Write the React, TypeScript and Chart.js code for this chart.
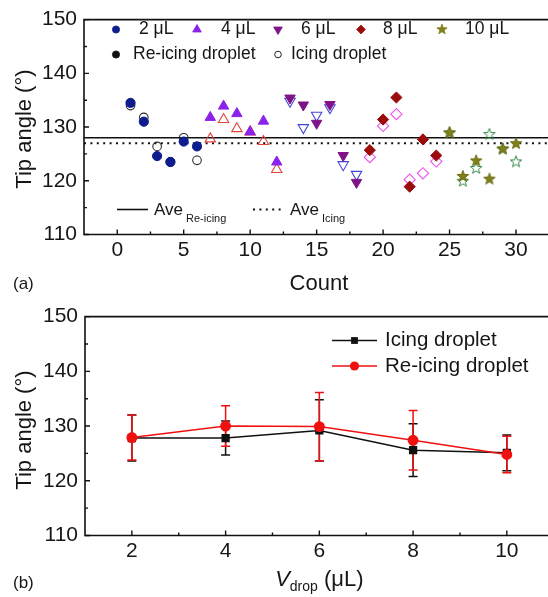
import React, { useEffect, useRef } from 'react';
import { Chart, registerables } from 'chart.js';

Chart.register(...registerables);

const FONT = '"Liberation Sans", Arimo, Arial, sans-serif';
const TEXT = '#161616';

// ---------------- Panel (a): tip angle per count ----------------
const countsV2 = [1, 2, 3, 4, 5, 6];
const countsV4 = [7, 8, 9, 10, 11, 12];
const countsV6 = [13, 14, 15, 16, 17, 18];
const countsV8 = [19, 20, 21, 22, 23, 24];
const countsV10 = [25, 26, 27, 28, 29, 30];

const reIcingV2 = [134.5, 131.0, 124.6, 123.5, 127.3, 126.4];
const reIcingV4 = [131.8, 133.9, 132.5, 129.1, 131.1, 123.5];
const reIcingV6 = [135.4, 134.1, 130.7, 134.2, 124.7, 119.7];
const reIcingV8 = [125.7, 131.4, 135.5, 118.9, 127.7, 124.7];
const reIcingV10 = [129.0, 120.9, 123.8, 120.4, 126.0, 127.0];

const icingV2 = [134.0, 131.8, 126.4, 123.5, 128.0, 123.8];
const icingV4 = [127.8, 131.4, 129.7, 129.1, 127.3, 122.1];
const icingV6 = [134.8, 129.9, 132.2, 133.6, 123.0, 121.2];
const icingV8 = [124.4, 130.2, 132.4, 120.2, 121.4, 123.6];
const icingV10 = [129.0, 120.0, 122.4, 128.7, 126.0, 123.6];

const aveReIcing = 128.0;
const aveIcing = 127.0;

const countMin = -2.5;
const countMax = 33;
const countTicks = [0, 5, 10, 15, 20, 25, 30];
const countMinorTicks = [2.5, 7.5, 12.5, 17.5, 22.5, 27.5, 32.5];
const angleMin = 110;
const angleMax = 150;
const angleTicks = [110, 120, 130, 140, 150];
const angleMinorTicks = [115, 125, 135, 145];

const volumeLabels = ['2 μL', '4 μL', '6 μL', '8 μL', '10 μL'];

// ---------------- Panel (b): mean tip angle per volume ----------------
const volumes = [2, 4, 6, 8, 10];
const icingMean = [127.8, 127.8, 129.2, 125.6, 125.1];
const icingErr = [4.2, 3.1, 5.6, 4.8, 3.25];
const reIcingMean = [127.9, 130.0, 129.9, 127.4, 124.8];
const reIcingErr = [4.1, 3.7, 6.25, 5.45, 3.35];
const volumeMin = 1;
const volumeMax = 11;
const volumeTicks = [2, 4, 6, 8, 10];
const volumeMinorTicks = [3, 5, 7, 9];

// ---------------- styles ----------------
const C_NAVY = '#0e1c8e';
const C_VIOLET = '#8a22ea';
const C_PURPLE = '#7e1488';
const C_WINE = '#9a0c0c';
const C_OLIVE = '#80801a';
const O_BLACK = '#2a2a2a';
const O_RED = '#e2453c';
const O_BLUE = '#4545da';
const O_MAGENTA = '#ee55ee';
const O_GREEN = '#2f8a45';

function starPath(ctx: CanvasRenderingContext2D, cx: number, cy: number, r: number) {
  const inner = r * 0.42;
  ctx.beginPath();
  for (let i = 0; i < 10; i++) {
    const rr = i % 2 === 0 ? r : inner;
    const a = -Math.PI / 2 + (i * Math.PI) / 5;
    const px = cx + rr * Math.cos(a);
    const py = cy + rr * Math.sin(a);
    if (i === 0) ctx.moveTo(px, py);
    else ctx.lineTo(px, py);
  }
  ctx.closePath();
}

function makeStar(r: number, fill: string | null, stroke: string, lw: number) {
  const size = Math.ceil(2 * r + 4);
  const c = document.createElement('canvas');
  c.width = size;
  c.height = size;
  const ctx = c.getContext('2d')!;
  starPath(ctx, size / 2, size / 2 + r * 0.08, r);
  if (fill) {
    ctx.fillStyle = fill;
    ctx.fill();
  }
  ctx.strokeStyle = stroke;
  ctx.lineWidth = lw;
  ctx.stroke();
  return c;
}

function drawMarker(
  ctx: CanvasRenderingContext2D,
  style: string,
  x: number,
  y: number,
  r: number,
  fill: string | null,
  stroke: string | null,
  lw = 1
) {
  ctx.beginPath();
  if (style === 'circle') {
    ctx.arc(x, y, r, 0, Math.PI * 2);
  } else if (style === 'triangle') {
    ctx.moveTo(x, y - r);
    ctx.lineTo(x + r * 0.866, y + r * 0.5);
    ctx.lineTo(x - r * 0.866, y + r * 0.5);
    ctx.closePath();
  } else if (style === 'down') {
    ctx.moveTo(x, y + r);
    ctx.lineTo(x + r * 0.866, y - r * 0.5);
    ctx.lineTo(x - r * 0.866, y - r * 0.5);
    ctx.closePath();
  } else if (style === 'diamond') {
    ctx.moveTo(x, y - r);
    ctx.lineTo(x + r, y);
    ctx.lineTo(x, y + r);
    ctx.lineTo(x - r, y);
    ctx.closePath();
  } else if (style === 'star') {
    starPath(ctx, x, y, r);
  } else if (style === 'square') {
    ctx.rect(x - r, y - r, 2 * r, 2 * r);
  }
  if (fill) {
    ctx.fillStyle = fill;
    ctx.fill();
  }
  if (stroke) {
    ctx.strokeStyle = stroke;
    ctx.lineWidth = lw;
    ctx.stroke();
  }
}

function pts(xs: number[], ys: number[]) {
  return xs.map((x, i) => ({ x, y: ys[i] }));
}

function drawFrameAndTicks(
  chart: any,
  xMajor: number[],
  xMinor: number[],
  yMajor: number[],
  yMinor: number[]
) {
  const ctx: CanvasRenderingContext2D = chart.ctx;
  const { left, right, top, bottom } = chart.chartArea;
  const xs = chart.scales.x;
  const ys = chart.scales.y;
  ctx.save();
  ctx.strokeStyle = '#111';
  ctx.lineWidth = 1.6;
  ctx.beginPath();
  ctx.rect(left, top, right - left, bottom - top);
  ctx.stroke();
  ctx.lineWidth = 1.4;
  ctx.beginPath();
  xMajor.forEach((v) => {
    const p = xs.getPixelForValue(v);
    ctx.moveTo(p, bottom);
    ctx.lineTo(p, bottom - 5);
  });
  xMinor.forEach((v) => {
    const p = xs.getPixelForValue(v);
    ctx.moveTo(p, bottom);
    ctx.lineTo(p, bottom - 3);
  });
  yMajor.forEach((v) => {
    const p = ys.getPixelForValue(v);
    ctx.moveTo(left, p);
    ctx.lineTo(left + 5, p);
  });
  yMinor.forEach((v) => {
    const p = ys.getPixelForValue(v);
    ctx.moveTo(left, p);
    ctx.lineTo(left + 3, p);
  });
  ctx.stroke();
  ctx.restore();
}

function drawYTitle(ctx: CanvasRenderingContext2D, x: number, y: number) {
  ctx.save();
  ctx.translate(x, y);
  ctx.rotate(-Math.PI / 2);
  ctx.font = `22px ${FONT}`;
  ctx.fillStyle = TEXT;
  ctx.textAlign = 'center';
  ctx.textBaseline = 'middle';
  ctx.fillText('Tip angle (°)', 0, 0);
  ctx.restore();
}

function makeConfigA(): any {
  const starFill = makeStar(6, C_OLIVE, '#6a6a10', 1);
  const starOpen = makeStar(6, null, O_GREEN, 1);
  const groups = [
    { xs: countsV2, re: reIcingV2, ic: icingV2, style: 'circle', rot: 0, r: 4.6, fill: C_NAVY, open: O_BLACK, legend: 'circle' },
    { xs: countsV4, re: reIcingV4, ic: icingV4, style: 'triangle', rot: 0, r: 6, fill: C_VIOLET, open: O_RED, legend: 'triangle' },
    { xs: countsV6, re: reIcingV6, ic: icingV6, style: 'triangle', rot: 180, r: 6, fill: C_PURPLE, open: O_BLUE, legend: 'down' },
    { xs: countsV8, re: reIcingV8, ic: icingV8, style: 'rectRot', rot: 0, r: 5.6, fill: C_WINE, open: O_MAGENTA, legend: 'diamond' },
    { xs: countsV10, re: reIcingV10, ic: icingV10, style: 'star', rot: 0, r: 6, fill: C_OLIVE, open: O_GREEN, legend: 'star' },
  ];

  const filled = groups.map((g) => ({
    data: pts(g.xs, g.re),
    pointStyle: g.style === 'star' ? starFill : g.style,
    pointRotation: g.rot,
    pointRadius: g.r,
    pointBackgroundColor: g.fill,
    pointBorderColor: g.fill,
    pointBorderWidth: 1,
    showLine: false,
  }));
  const open = groups.map((g) => ({
    data: pts(g.xs, g.ic),
    pointStyle: g.style === 'star' ? starOpen : g.style,
    pointRotation: g.rot,
    pointRadius: g.style === 'circle' ? 4.3 : g.r,
    pointBackgroundColor: 'rgba(255,255,255,0)',
    pointBorderColor: g.open,
    pointBorderWidth: 1.1,
    showLine: false,
  }));
  const aveLines = [
    {
      data: [
        { x: countMin, y: aveReIcing },
        { x: countMax, y: aveReIcing },
      ],
      showLine: true,
      borderColor: '#111',
      borderWidth: 1.6,
      pointRadius: 0,
    },
    {
      data: [
        { x: countMin, y: aveIcing },
        { x: countMax, y: aveIcing },
      ],
      showLine: true,
      borderColor: '#111',
      borderWidth: 2,
      borderDash: [2, 4.4],
      pointRadius: 0,
    },
  ];

  const annot = {
    id: 'annotA',
    afterDraw(chart: any) {
      const ctx: CanvasRenderingContext2D = chart.ctx;
      drawFrameAndTicks(chart, countTicks, countMinorTicks, angleTicks, angleMinorTicks);
      const { left, right, top, bottom } = chart.chartArea;
      ctx.save();
      ctx.fillStyle = TEXT;
      ctx.textBaseline = 'middle';
      ctx.textAlign = 'left';
      // legend row 1
      ctx.font = `17.5px ${FONT}`;
      const mx = [116, 197, 278, 361, 442];
      const tx = [139, 221, 301, 383, 465];
      const lr = [3.6, 5, 5, 4.4, 5.4];
      groups.forEach((g, i) => {
        drawMarker(ctx, g.legend, mx[i], 29.5, lr[i], g.fill, g.fill, 0.8);
        ctx.fillStyle = TEXT;
        ctx.fillText(volumeLabels[i], tx[i], 29.5);
      });
      // legend row 2
      drawMarker(ctx, 'circle', 116, 54.5, 3.6, '#111', '#111', 0.8);
      ctx.fillStyle = TEXT;
      ctx.fillText('Re-icing droplet', 133, 54.5);
      drawMarker(ctx, 'circle', 278, 54.5, 3.3, null, '#222', 1);
      ctx.fillStyle = TEXT;
      ctx.fillText('Icing droplet', 291, 54.5);

      // average legend
      ctx.strokeStyle = '#111';
      ctx.lineWidth = 1.6;
      ctx.beginPath();
      ctx.moveTo(117, 209.5);
      ctx.lineTo(148, 209.5);
      ctx.stroke();
      ctx.font = `17px ${FONT}`;
      ctx.fillText('Ave', 154, 210.5);
      ctx.font = `11px ${FONT}`;
      ctx.fillText('Re-icing', 186, 218.5);
      ctx.lineWidth = 2;
      ctx.setLineDash([2, 4.4]);
      ctx.beginPath();
      ctx.moveTo(253, 209.5);
      ctx.lineTo(284, 209.5);
      ctx.stroke();
      ctx.setLineDash([]);
      ctx.font = `17px ${FONT}`;
      ctx.fillText('Ave', 290, 210.5);
      ctx.font = `11px ${FONT}`;
      ctx.fillText('Icing', 322, 218.5);

      // titles
      ctx.font = `22px ${FONT}`;
      ctx.textAlign = 'center';
      ctx.fillText('Count', (left + right) / 2 - 1, 284);
      ctx.font = `17px ${FONT}`;
      ctx.textAlign = 'left';
      ctx.fillText('(a)', 13, 284);
      ctx.restore();
      drawYTitle(ctx, 25, (top + bottom) / 2 + 2);
    },
  };

  return {
    type: 'scatter',
    data: { datasets: [...filled, ...open, ...aveLines] },
    options: {
      animation: false,
      responsive: false,
      devicePixelRatio: 1,
      events: [],
      layout: { padding: { left: 0, right: 0, top: 16, bottom: 0 } },
      plugins: { legend: { display: false }, tooltip: { enabled: false }, title: { display: false } },
      scales: {
        x: {
          type: 'linear',
          min: countMin,
          max: countMax,
          grid: { display: false, drawTicks: false },
          border: { display: false },
          afterBuildTicks: (s: any) => {
            s.ticks = countTicks.map((value) => ({ value }));
          },
          afterFit: (s: any) => {
            s.height = 62.5;
          },
          ticks: { color: TEXT, font: { family: FONT, size: 21 }, padding: 3, maxRotation: 0, autoSkip: false },
        },
        y: {
          type: 'linear',
          min: angleMin,
          max: angleMax,
          grid: { display: false, drawTicks: false },
          border: { display: false },
          afterBuildTicks: (s: any) => {
            s.ticks = angleTicks.map((value) => ({ value }));
          },
          afterFit: (s: any) => {
            s.width = 84;
          },
          ticks: { color: TEXT, font: { family: FONT, size: 21 }, padding: 7 },
        },
      },
    },
    plugins: [annot],
  };
}

function makeConfigB(): any {
  const errorBars = {
    id: 'errorBars',
    beforeDatasetsDraw(chart: any) {
      const ctx: CanvasRenderingContext2D = chart.ctx;
      const ys = chart.scales.y;
      const xs = chart.scales.x;
      ctx.save();
      ctx.lineWidth = 1.5;
      [1, 0].forEach((di) => {
        const ds = chart.data.datasets[di];
        ctx.strokeStyle = ds.borderColor;
        ctx.beginPath();
        ds.data.forEach((p: any, i: number) => {
          const e = ds.errors[i];
          const px = xs.getPixelForValue(p.x);
          const y1 = ys.getPixelForValue(p.y + e);
          const y2 = ys.getPixelForValue(p.y - e);
          ctx.moveTo(px, y1);
          ctx.lineTo(px, y2);
          ctx.moveTo(px - 4.5, y1);
          ctx.lineTo(px + 4.5, y1);
          ctx.moveTo(px - 4.5, y2);
          ctx.lineTo(px + 4.5, y2);
        });
        ctx.stroke();
      });
      ctx.restore();
    },
  };

  const annot = {
    id: 'annotB',
    afterDraw(chart: any) {
      const ctx: CanvasRenderingContext2D = chart.ctx;
      drawFrameAndTicks(chart, volumeTicks, volumeMinorTicks, angleTicks, angleMinorTicks);
      const { left, right, top, bottom } = chart.chartArea;
      ctx.save();
      // legend
      ctx.lineWidth = 1.5;
      ctx.strokeStyle = '#111';
      ctx.beginPath();
      ctx.moveTo(332, 43.5);
      ctx.lineTo(377, 43.5);
      ctx.stroke();
      drawMarker(ctx, 'square', 354.5, 43.5, 3.4, '#111', null);
      ctx.strokeStyle = '#f01010';
      ctx.beginPath();
      ctx.moveTo(332, 69);
      ctx.lineTo(377, 69);
      ctx.stroke();
      drawMarker(ctx, 'circle', 354.5, 69, 4.6, '#f01010', null);
      ctx.fillStyle = TEXT;
      ctx.font = `20.5px ${FONT}`;
      ctx.textBaseline = 'middle';
      ctx.textAlign = 'left';
      ctx.fillText('Icing droplet', 385, 43.5);
      ctx.fillText('Re-icing droplet', 385, 69);

      // x title: V_drop (μL)
      ctx.textBaseline = 'alphabetic';
      const cx = (left + right) / 2;
      ctx.font = `italic 22px ${FONT}`;
      const wV = ctx.measureText('V').width;
      ctx.font = `14px ${FONT}`;
      const wS = ctx.measureText('drop').width;
      ctx.font = `22px ${FONT}`;
      const wR = ctx.measureText(' (μL)').width;
      let x0 = cx - (wV + wS + wR) / 2;
      const base = 289;
      ctx.font = `italic 22px ${FONT}`;
      ctx.fillText('V', x0, base);
      x0 += wV;
      ctx.font = `14px ${FONT}`;
      ctx.fillText('drop', x0, base + 5);
      x0 += wS;
      ctx.font = `22px ${FONT}`;
      ctx.fillText(' (μL)', x0, base);

      ctx.font = `17px ${FONT}`;
      ctx.textBaseline = 'middle';
      ctx.fillText('(b)', 13, 286);
      ctx.restore();
      drawYTitle(ctx, 25, (top + bottom) / 2 + 4);
    },
  };

  return {
    type: 'scatter',
    data: {
      datasets: [
        {
          data: pts(volumes, reIcingMean),
          errors: reIcingErr,
          showLine: true,
          borderColor: '#f01010',
          borderWidth: 1.5,
          pointStyle: 'circle',
          pointRadius: 4.7,
          pointBackgroundColor: '#f01010',
          pointBorderColor: '#f01010',
        },
        {
          data: pts(volumes, icingMean),
          errors: icingErr,
          showLine: true,
          borderColor: '#111111',
          borderWidth: 1.5,
          pointStyle: 'rect',
          pointRadius: 4.8,
          pointBackgroundColor: '#111111',
          pointBorderColor: '#111111',
        },
      ],
    },
    options: {
      animation: false,
      responsive: false,
      devicePixelRatio: 1,
      events: [],
      layout: { padding: { left: 0, right: 0, top: 11.5, bottom: 0 } },
      plugins: { legend: { display: false }, tooltip: { enabled: false }, title: { display: false } },
      scales: {
        x: {
          type: 'linear',
          min: volumeMin,
          max: volumeMax,
          grid: { display: false, drawTicks: false },
          border: { display: false },
          afterBuildTicks: (s: any) => {
            s.ticks = volumeTicks.map((value) => ({ value }));
          },
          afterFit: (s: any) => {
            s.height = 61.5;
          },
          ticks: { color: TEXT, font: { family: FONT, size: 21 }, padding: 3, maxRotation: 0, autoSkip: false },
        },
        y: {
          type: 'linear',
          min: angleMin,
          max: angleMax,
          grid: { display: false, drawTicks: false },
          border: { display: false },
          afterBuildTicks: (s: any) => {
            s.ticks = angleTicks.map((value) => ({ value }));
          },
          afterFit: (s: any) => {
            s.width = 85;
          },
          ticks: { color: TEXT, font: { family: FONT, size: 21 }, padding: 7 },
        },
      },
    },
    plugins: [errorBars, annot],
  };
}

export default function App() {
  const refA = useRef<HTMLCanvasElement>(null);
  const refB = useRef<HTMLCanvasElement>(null);
  useEffect(() => {
    const a = new Chart(refA.current!, makeConfigA());
    const b = new Chart(refB.current!, makeConfigB());
    return () => {
      a.destroy();
      b.destroy();
    };
  }, []);
  return (
    <div
      style={{
        position: 'fixed',
        left: 0,
        top: 0,
        width: 548,
        height: 597,
        overflow: 'hidden',
        background: '#fff',
      }}
    >
      <canvas
        ref={refA}
        width={563}
        height={297}
        style={{ position: 'absolute', left: 0, top: 0, width: 563, height: 297 }}
      />
      <canvas
        ref={refB}
        width={560}
        height={300}
        style={{ position: 'absolute', left: 0, top: 297, width: 560, height: 300 }}
      />
    </div>
  );
}
